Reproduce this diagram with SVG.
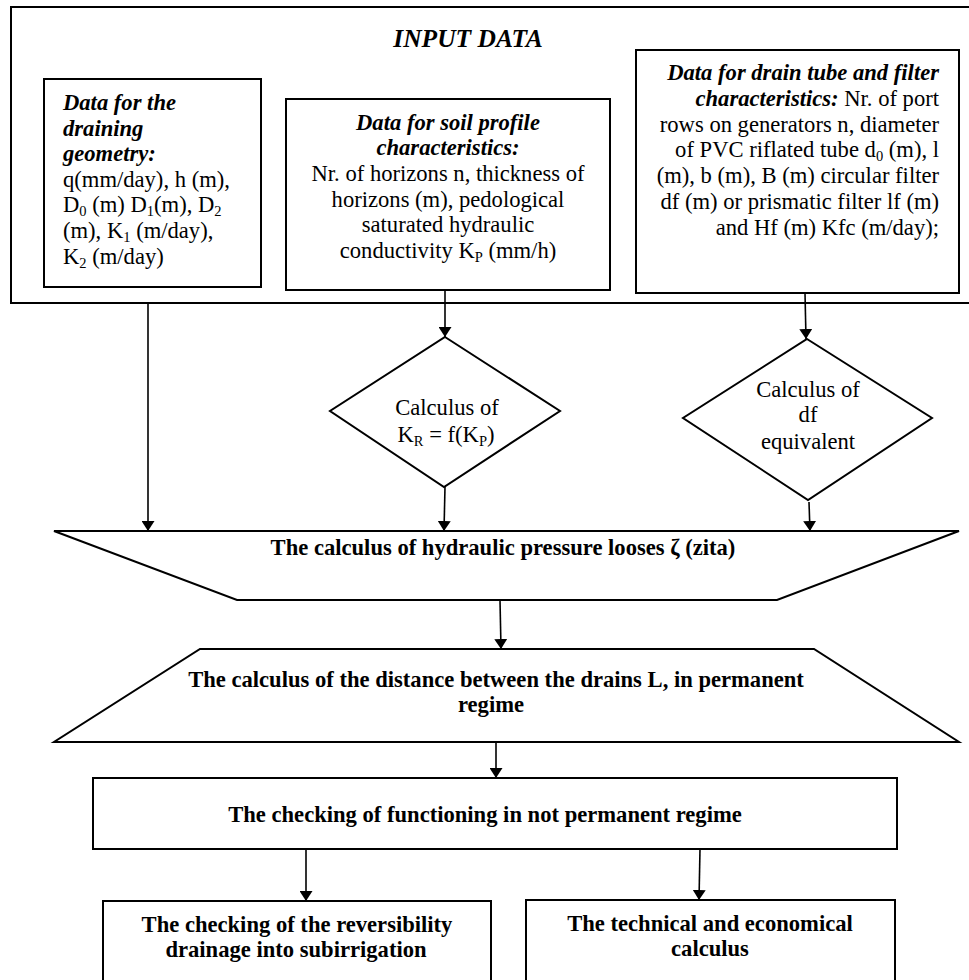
<svg xmlns="http://www.w3.org/2000/svg" width="969" height="980" viewBox="0 0 969 980">
<defs>
<marker id="arr" markerUnits="userSpaceOnUse" markerWidth="10" markerHeight="13" viewBox="0 0 10 13" refX="10" refY="6.5" orient="auto">
<path d="M0,0 L10,6.5 L0,13 z" fill="#000"/>
</marker>
</defs>
<style>
.box{fill:#fff;stroke:#000;stroke-width:2}
.t{font-family:"Liberation Serif","Times New Roman",serif;font-size:22.6px;fill:#000}
.bi{font-weight:bold;font-style:italic}
.b{font-weight:bold}
.c{text-anchor:middle}
.e{text-anchor:end}
.sub{font-size:14.5px}
.conn line{stroke:#000;stroke-width:1.6;marker-end:url(#arr)}
</style>
<rect x="0" y="0" width="969" height="980" fill="#fff"/>

<g id="input-data">
<rect class="box" x="11" y="7" width="975" height="296"/>
<text class="t bi c" x="468" y="47" style="font-size:25.5px">INPUT DATA</text>
</g>

<g id="draining-geometry">
<rect class="box" x="44" y="79" width="217" height="208"/>
<text class="t bi" x="63" y="110">Data for the</text>
<text class="t bi" x="63" y="136">draining</text>
<text class="t bi" x="63" y="161">geometry:</text>
<text class="t" x="63" y="187">q(mm/day), h (m),</text>
<text class="t" x="63" y="212">D<tspan class="sub" dy="4">0</tspan><tspan dy="-4"> (m) D</tspan><tspan class="sub" dy="4">1</tspan><tspan dy="-4">(m), D</tspan><tspan class="sub" dy="4">2</tspan></text>
<text class="t" x="63" y="238">(m), K<tspan class="sub" dy="4">1</tspan><tspan dy="-4"> (m/day),</tspan></text>
<text class="t" x="63" y="264">K<tspan class="sub" dy="4">2</tspan><tspan dy="-4"> (m/day)</tspan></text>
</g>

<g id="soil-profile">
<rect class="box" x="286" y="99" width="324" height="191"/>
<text class="t bi c" x="448" y="130">Data for soil profile</text>
<text class="t bi c" x="448" y="155">characteristics:</text>
<text class="t c" x="448" y="181">Nr. of horizons n, thickness of</text>
<text class="t c" x="448" y="207">horizons (m), pedological</text>
<text class="t c" x="448" y="232">saturated hydraulic</text>
<text class="t c" x="448" y="258">conductivity K<tspan class="sub" dy="4">P</tspan><tspan dy="-4"> (mm/h)</tspan></text>
</g>

<g id="drain-tube">
<rect class="box" x="636" y="50" width="323" height="243"/>
<text class="t bi e" x="939" y="80">Data for drain tube and filter</text>
<text class="t e" x="939" y="106"><tspan class="bi">characteristics:</tspan> Nr. of port</text>
<text class="t e" x="939" y="132">rows on generators n, diameter</text>
<text class="t e" x="939" y="157">of PVC riflated tube d<tspan class="sub" dy="4">0</tspan><tspan dy="-4"> (m), l</tspan></text>
<text class="t e" x="939" y="183">(m), b (m), B (m) circular filter</text>
<text class="t e" x="939" y="209">df (m) or prismatic filter lf (m)</text>
<text class="t e" x="939" y="235">and Hf (m) Kfc (m/day);</text>
</g>

<g id="calc-kr">
<polygon class="box" points="445,337 560,411 444,487 330,411"/>
<text class="t c" x="447" y="415">Calculus of</text>
<text class="t c" x="446" y="442">K<tspan class="sub" dy="4">R</tspan><tspan dy="-4"> = f(K</tspan><tspan class="sub" dy="4">P</tspan><tspan dy="-4">)</tspan></text>
</g>

<g id="calc-df">
<polygon class="box" points="807,339 932,418 808,500 683,418"/>
<text class="t c" x="808" y="397">Calculus of</text>
<text class="t c" x="808" y="422">df</text>
<text class="t c" x="808" y="449">equivalent</text>
</g>

<g id="zeta">
<polygon class="box" points="54,531 959,531 777,600 237,600"/>
<text class="t b c" x="503" y="555">The calculus of hydraulic pressure looses ζ (zita)</text>
</g>

<g id="distance">
<polygon class="box" points="200,649 814,649 959,742 54,742"/>
<text class="t b c" x="496" y="687">The calculus of the distance between the drains L, in permanent</text>
<text class="t b c" x="491" y="712">regime</text>
</g>

<g id="checking">
<rect class="box" x="93" y="778" width="804" height="71"/>
<text class="t b c" x="485" y="822">The checking of functioning in not permanent regime</text>
</g>

<g id="reversibility">
<rect class="box" x="103" y="901" width="388" height="90"/>
<text class="t b c" x="297" y="932">The checking of the reversibility</text>
<text class="t b c" x="296" y="957">drainage into subirrigation</text>
</g>

<g id="economical">
<rect class="box" x="526" y="900" width="369" height="91"/>
<text class="t b c" x="710" y="931">The technical and economical</text>
<text class="t b c" x="710" y="956">calculus</text>
</g>

<g id="connectors" class="conn">
<line x1="148" y1="303" x2="148" y2="531"/>
<line x1="445" y1="290" x2="445" y2="337"/>
<line x1="445" y1="487" x2="444" y2="531"/>
<line x1="805" y1="293" x2="806" y2="339"/>
<line x1="809" y1="502" x2="810" y2="531"/>
<line x1="500" y1="600" x2="501" y2="649"/>
<line x1="496" y1="742" x2="496" y2="778"/>
<line x1="306" y1="849" x2="306" y2="901"/>
<line x1="700" y1="849" x2="699" y2="900"/>
</g>
</svg>
